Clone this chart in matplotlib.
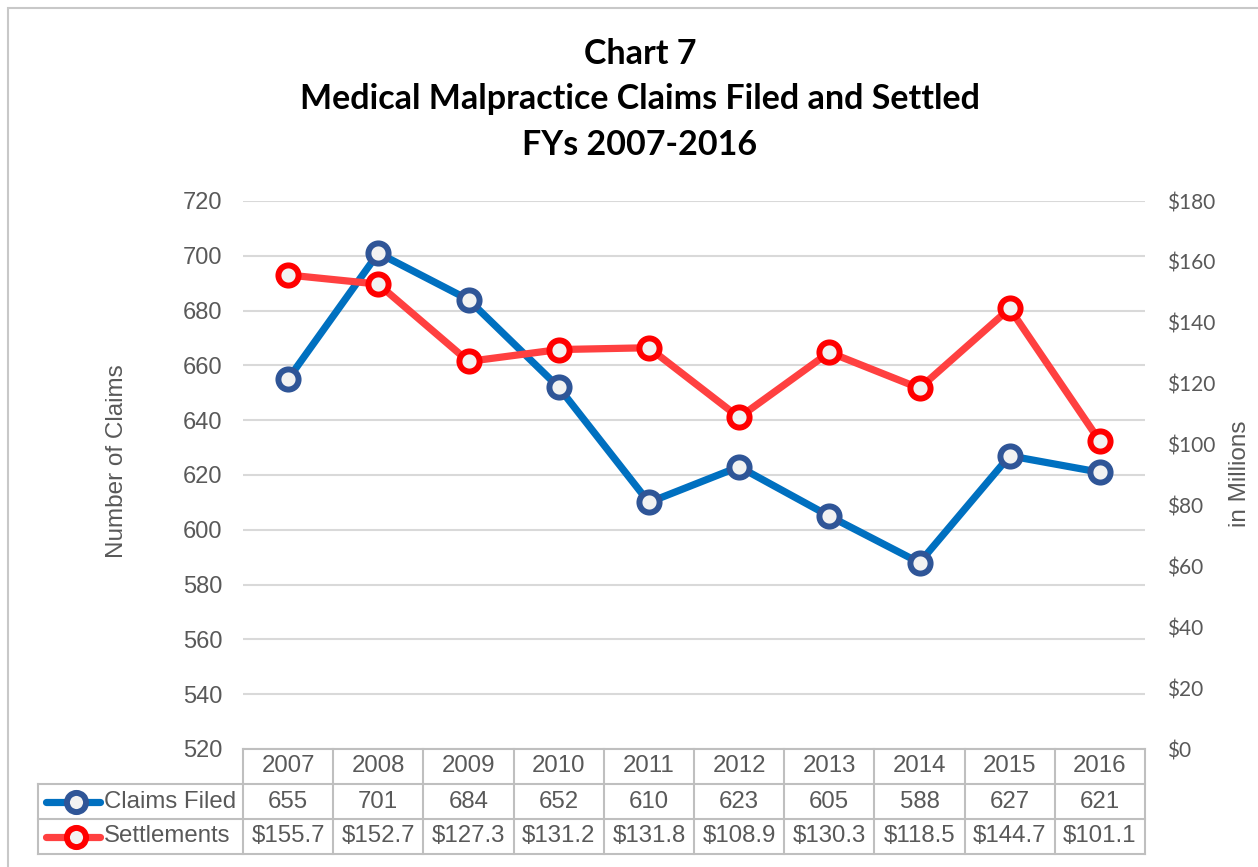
import matplotlib
matplotlib.use("Agg")
import matplotlib.pyplot as plt
from matplotlib.lines import Line2D
import matplotlib.transforms as mtransforms

plt.rcParams["font.family"] = ["Liberation Sans", "DejaVu Sans"]

years = ["2007", "2008", "2009", "2010", "2011", "2012", "2013", "2014", "2015", "2016"]
claims = [655, 701, 684, 652, 610, 623, 605, 588, 627, 621]
settlements = [155.7, 152.7, 127.3, 131.2, 131.8, 108.9, 130.3, 118.5, 144.7, 101.1]
claims_labels = [str(v) for v in claims]
settle_labels = ["$%.1f" % v for v in settlements]
series_names = ["Claims Filed", "Settlements"]
left_ticks = list(range(520, 721, 20))
right_ticks = list(range(0, 181, 20))
title_lines = ["Chart 7", "Medical Malpractice Claims Filed and Settled", "FYs 2007-2016"]

W, H = 1258, 867
fig = plt.figure(figsize=(W / 100, H / 100), dpi=100)
fig.patch.set_facecolor("white")

# outer border (left/top visible)
fig.add_artist(plt.Rectangle((7.5 / W, -0.01), 1.05, 1 - 8.5 / H + 0.01, transform=fig.transFigure,
                             fill=False, edgecolor="#C8C8C8", linewidth=1.5))

ax_l, ax_r, ax_t, ax_b = 243, 1145, 201, 749
ax = fig.add_axes([ax_l / W, 1 - ax_b / H, (ax_r - ax_l) / W, (ax_b - ax_t) / H])
ax2 = ax.twinx()

tick_color = "#595959"
grid_color = "#D9D9D9"
blue_line, blue_edge = "#0070C0", "#2F5597"
red_line, red_edge = "#FF4040", "#FF0000"
face = "#F2F2F2"
ms, mew, lw = 14.5, 4.3, 5.2

x = list(range(len(years)))
ax.plot(x, claims, color=blue_line, lw=lw, marker="o", ms=ms, mew=mew,
        mec=blue_edge, mfc=face, solid_joinstyle="round", zorder=3, clip_on=False)
ax2.plot(x, settlements, color=red_line, lw=lw, marker="o", ms=ms, mew=mew,
         mec=red_edge, mfc=face, solid_joinstyle="round", zorder=3, clip_on=False)

ax.set_xlim(-0.5, len(years) - 0.5)
ax.set_ylim(520, 720)
ax2.set_ylim(0, 180)
ax.set_yticks(left_ticks)
ax.set_yticklabels([str(v) for v in left_ticks], fontfamily="Liberation Sans")
ax2.set_yticks(right_ticks)
ax2.set_yticklabels(["$%d" % v for v in right_ticks], fontfamily="Lato")
ax.set_xticks([])
ax.grid(axis="y", color=grid_color, lw=1.5)
ax.set_axisbelow(True)
for a in (ax, ax2):
    for s in a.spines.values():
        s.set_visible(False)
ax.tick_params(axis="y", length=0, pad=15, labelsize=17, labelcolor=tick_color)
ax2.tick_params(axis="y", length=0, pad=16, labelsize=15, labelcolor=tick_color)
ax.set_ylabel("Number of Claims", fontsize=17.5, color=tick_color, family="Liberation Sans")
ax.yaxis.set_label_coords((128 - ax_l) / (ax_r - ax_l), 0.526)
ax2.set_ylabel("in Millions", fontsize=17.5, color=tick_color, family="Liberation Sans")
ax2.yaxis.set_label_coords((1229 - ax_l) / (ax_r - ax_l), 0.502)

for txt, base in zip(title_lines, [64, 109, 155]):
    fig.text(640 / W, 1 - base / H, txt, ha="center", va="baseline", fontsize=24.5,
             fontweight="bold", family="Lato", color="black")

# data table below the axes
row_h = 35 / (ax_b - ax_t)  # in axes fraction
tab_color = "#BFBFBF"
trans = mtransforms.blended_transform_factory(ax.transData, ax.transAxes)
n = len(years)
label_left = (38 - ax_l) / (ax_r - ax_l)  # axes fraction
tl = dict(color=tab_color, lw=1.5, clip_on=False, transform=ax.transAxes)
ax.add_line(Line2D([0, 1], [0, 0], **tl))
for k in (1, 2, 3):
    ax.add_line(Line2D([label_left, 1], [-k * row_h, -k * row_h], **tl))
for i in range(n + 1):
    xf = i / n
    ax.add_line(Line2D([xf, xf], [0, -3 * row_h], **tl))
ax.add_line(Line2D([label_left, label_left], [-row_h, -3 * row_h], **tl))

tfont = dict(fontsize=17.3, color=tick_color, family="Liberation Sans", ha="center", va="center")
for i in range(n):
    ax.text(x[i], -0.5 * row_h, years[i], transform=trans, **tfont)
    ax.text(x[i], -1.5 * row_h, claims_labels[i], transform=trans, **tfont)
    ax.text(x[i], -2.5 * row_h, settle_labels[i], transform=trans, **tfont)

# legend keys in row labels
key_specs = [(blue_line, blue_edge), (red_line, red_edge)]
for r, (lc, ec) in enumerate(key_specs):
    yy = -(1.5 + r) * row_h
    x0 = (46 - ax_l) / (ax_r - ax_l)
    x1 = (100 - ax_l) / (ax_r - ax_l)
    xm = (76 - ax_l) / (ax_r - ax_l)
    ax.add_line(Line2D([x0, x1], [yy, yy], color=lc, lw=lw, clip_on=False,
                       transform=ax.transAxes, solid_capstyle="round"))
    ax.add_line(Line2D([xm], [yy], marker="o", ms=ms * 0.95, mew=mew, mec=ec, mfc=face,
                       clip_on=False, transform=ax.transAxes, lw=0))
    ax.text((104 - ax_l) / (ax_r - ax_l), yy, series_names[r], transform=ax.transAxes,
            fontsize=17.3, color=tick_color, family="Liberation Sans", ha="left", va="center")

fig.savefig("out.png", dpi=100, facecolor="white")
